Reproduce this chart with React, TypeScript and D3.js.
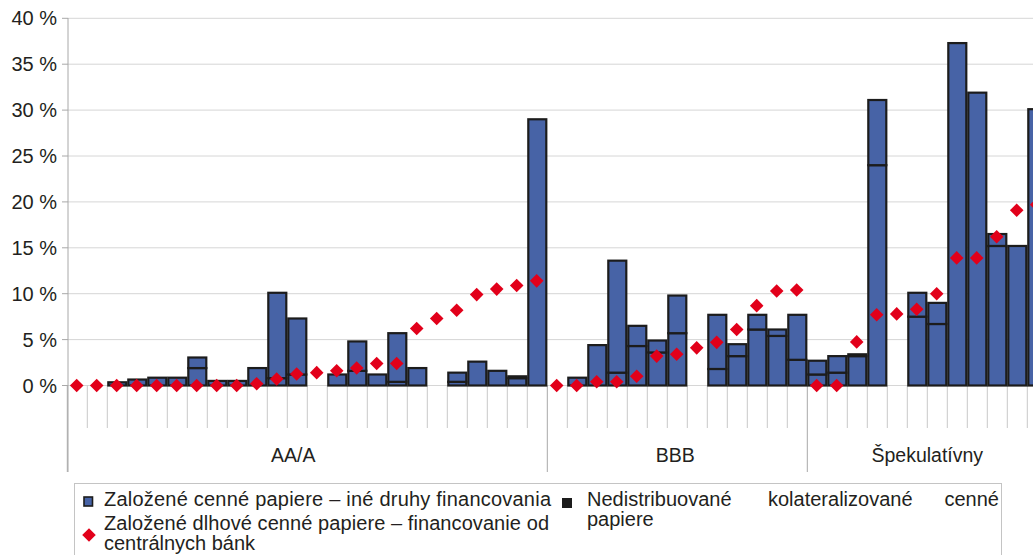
import * as d3 from 'd3';
import React from 'react';

// rating groups and how many securities buckets fall into each
const groups = ['AA/A', 'BBB', 'Špekulatívny'];
const groupSizes = [24, 13, 12];

// stacked bar: lower part and upper part (in %)
const barLower = [
  0, 0, 0.35, 0.65, 0.85, 0.85, 1.9, 0.5, 0.5, 1.9, 0.8, 1.2, 0, 1.2, 1.6, 1.2, 0.4, 1.9, 0, 0.4, 2.6, 1.6, 0.8, 29.0,
  0, 0.85, 4.4, 1.4, 4.3, 3.6, 5.7, 0, 1.8, 3.2, 6.1, 5.4, 2.8,
  1.2, 1.4, 3.2, 24.0, 0, 7.5, 6.7, 37.3, 31.9, 15.2, 15.2, 30.1
];
const barUpper = [
  0, 0, 0, 0, 0, 0, 1.15, 0, 0, 0, 9.3, 6.1, 0, 0, 3.2, 0, 5.3, 0, 0, 1.0, 0, 0, 0.2, 0,
  0, 0, 0, 12.2, 2.2, 1.3, 4.1, 0, 5.9, 1.3, 1.6, 0.7, 4.9,
  1.5, 1.8, 0.2, 7.1, 0, 2.6, 2.3, 0, 0, 1.3, 0, 0
];
// red diamonds: central bank financing (in %)
const centralBank = [
  0, 0, 0, 0, 0, 0, 0, 0, 0, 0.2, 0.7, 1.25, 1.4, 1.6, 1.9, 2.4, 2.4, 6.2, 7.3, 8.2, 9.9, 10.5, 10.9, 11.4,
  0, 0, 0.4, 0.4, 1.0, 3.2, 3.4, 4.1, 4.7, 6.1, 8.7, 10.3, 10.4,
  0, 0, 4.75, 7.7, 7.8, 8.3, 10.0, 13.9, 13.9, 16.2, 19.1, 19.7
];
const yTicks = [0, 5, 10, 15, 20, 25, 30, 35, 40];

const BLUE = '#4763a6';
const RED = '#e2001a';
const INK = '#1c1c1c';
const FONT = '"Liberation Sans", Arial, sans-serif';

const App = () => {
  const width = 1033;
  const height = 555;
  const n = barLower.length;

  const x = d3.scaleBand<number>()
    .domain(d3.range(n))
    .range([67.3, 67.3 + n * 20])
    .padding(0);

  const y = d3.scaleLinear().domain([0, 40]).range([385.5, 18.3]);

  const rows = barLower.map((v, i) => ({ i, lower: v, upper: barUpper[i] }));
  const stacked = d3.stack<any>().keys(['lower', 'upper'])(rows);

  const diamond = d3.symbol().type(d3.symbolSquare).size(92)();

  // group boundaries in slot index
  const starts = groupSizes.map((_, g) => d3.sum(groupSizes.slice(0, g)));
  const labelNudge: Record<string, number> = { 'AA/A': -14, BBB: -2 };

  return (
    <svg width={width} height={height} style={{ position: 'absolute', left: 0, top: 0 }} fontFamily={FONT}>
      {/* gridlines */}
      {yTicks.map(t => (
        <g key={t}>
          <line x1={68} x2={width} y1={y(t)} y2={y(t)} stroke="#d6d6d6" strokeWidth={1} />
          <line x1={62} x2={68} y1={y(t)} y2={y(t)} stroke="#a8a8a8" strokeWidth={1} />
          <text x={57} y={y(t) + 7} textAnchor="end" fontSize={20} fill="#231f20">{`${t} %`}</text>
        </g>
      ))}

      {/* category ticks under the axis */}
      {d3.range(n + 1).map(k => {
        const xb = 67.3 + k * 20;
        const sep = starts.includes(k);
        return (
          <line key={k} x1={xb} x2={xb} y1={y(0)} y2={sep ? 472 : 428}
            stroke={sep ? '#a8a8a8' : '#c9c9c9'} strokeWidth={1} />
        );
      })}
      <line x1={68} x2={68} y1={18} y2={472} stroke="#a8a8a8" strokeWidth={1} />

      {/* stacked bars */}
      {stacked.map(layer => (
        <g key={layer.key}>
          {layer.map((d, i) => {
            const h = y(d[0]) - y(d[1]);
            if (h <= 0.01) return null;
            return (
              <rect key={i} x={(x(i) as number) + 1} y={y(d[1])} width={x.bandwidth() - 2} height={h}
                fill={BLUE} stroke={INK} strokeWidth={2.2} />
            );
          })}
        </g>
      ))}

      {/* central bank diamonds */}
      {centralBank.map((v, i) => (
        <path key={i} d={diamond as string}
          transform={`translate(${(x(i) as number) + x.bandwidth() / 2 - 0.6},${y(v)}) rotate(45)`}
          fill={RED} />
      ))}

      {/* group labels */}
      {groups.map((g, gi) => {
        const a = 67.3 + starts[gi] * 20;
        const b = a + groupSizes[gi] * 20;
        return (
          <text key={g} x={(a + b) / 2 + (labelNudge[g] || 0)} y={462} textAnchor="middle"
            fontSize={19.5} fill="#231f20">{g}</text>
        );
      })}

      {/* legend */}
      <rect x={74.5} y={483.5} width={927} height={90} fill="none" stroke="#c4c4c4" strokeWidth={1} />
      <rect x={84} y={497} width={8.5} height={9} fill={BLUE} stroke={INK} strokeWidth={1.6} />
      <text x={104} y={505.5} fontSize={20} fill="#231f20" textLength={447} lengthAdjust="spacing">
        Založené cenné papiere – iné druhy financovania
      </text>
      <path d={diamond as string} transform="translate(89,535) rotate(45)" fill={RED} />
      <text x={104} y={530} fontSize={20} fill="#231f20" textLength={445} lengthAdjust="spacing">
        Založené dlhové cenné papiere – financovanie od
      </text>
      <text x={104} y={550} fontSize={20} fill="#231f20" textLength={151} lengthAdjust="spacing">
        centrálnych bánk
      </text>
      <rect x={562} y={498} width={10} height={10} fill={INK} />
      <text x={587} y={505.5} fontSize={20} fill="#231f20">Nedistribuované</text>
      <text x={768} y={505.5} fontSize={20} fill="#231f20">kolateralizované</text>
      <text x={999} y={505.5} fontSize={20} fill="#231f20" textAnchor="end">cenné</text>
      <text x={587} y={526} fontSize={20} fill="#231f20">papiere</text>
    </svg>
  );
};

export default App;
